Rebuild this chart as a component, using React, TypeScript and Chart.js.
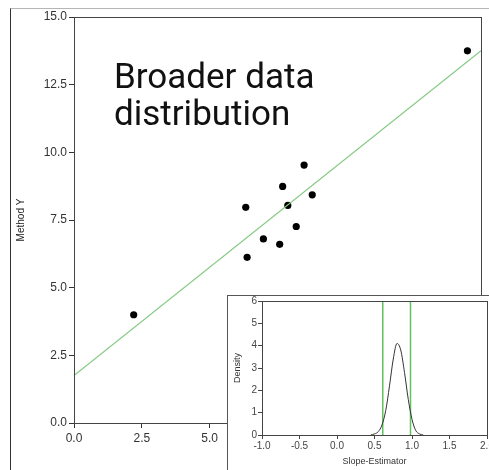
import React, { useEffect, useRef } from "react";
import { Chart, registerables } from "chart.js";

Chart.register(...registerables);

// Main scatter data
const methodX = [2.2, 6.33, 6.38, 6.98, 7.58, 7.69, 7.88, 8.19, 8.48, 8.78, 14.5];
const methodY = [4.0, 7.97, 6.12, 6.8, 6.6, 8.74, 8.04, 7.26, 9.53, 8.43, 13.75];
// Regression line endpoints
const fitX = [0, 15];
const fitY = [1.75, 13.75];
const mainTitleLines = ["Broader data", "distribution"];

// Inset density data
const slopeX = [0.45, 0.5, 0.55, 0.6, 0.65, 0.7, 0.75, 0.8, 0.85, 0.9, 0.95, 1.0, 1.05, 1.1, 1.15];
const densityY = [0.0, 0.05, 0.15, 0.45, 1.1, 2.2, 3.4, 4.1, 3.8, 2.8, 1.6, 0.7, 0.2, 0.05, 0.0];
const ciBounds = [0.61, 0.98];

const boxPlugin = {
  id: "boxPlugin",
  afterDraw(chart: any) {
    const { ctx, chartArea } = chart;
    ctx.save();
    ctx.strokeStyle = "#444";
    ctx.lineWidth = 1;
    ctx.strokeRect(
      Math.round(chartArea.left) + 0.5,
      Math.round(chartArea.top) + 0.5,
      Math.round(chartArea.right - chartArea.left),
      Math.round(chartArea.bottom - chartArea.top)
    );
    ctx.restore();
  },
};

const textPlugin = {
  id: "textPlugin",
  afterDraw(chart: any) {
    const ctx = chart.ctx;
    ctx.save();
    ctx.fillStyle = "#111";
    ctx.font = "35px Roboto";
    ctx.textBaseline = "alphabetic";
    ctx.textAlign = "left";
    ctx.fillText(mainTitleLines[0], 114, 88);
    ctx.fillText(mainTitleLines[1], 114, 125);
    ctx.restore();
  },
};

const tickFont = { family: "Arial, 'Liberation Sans', sans-serif", size: 12 };
const smallFont = { family: "Arial, 'Liberation Sans', sans-serif", size: 10 };
const titleFont = { family: "Arial, 'Liberation Sans', sans-serif", size: 9 };

export default function App() {
  const mainRef = useRef<HTMLCanvasElement>(null);
  const insetRef = useRef<HTMLCanvasElement>(null);

  useEffect(() => {
    const main = new Chart(mainRef.current!, {
      type: "scatter",
      data: {
        datasets: [
          {
            type: "line",
            data: fitX.map((x, i) => ({ x, y: fitY[i] })),
            borderColor: "#86c986",
            borderWidth: 1.2,
            pointRadius: 0,
            fill: false,
          } as any,
          {
            data: methodX.map((x, i) => ({ x, y: methodY[i] })),
            backgroundColor: "#000",
            borderColor: "#000",
            pointRadius: 3.6,
            pointBorderWidth: 0,
          },
        ],
      },
      options: {
        responsive: false,
        animation: false,
        layout: { padding: { left: 11, top: 17, right: 8, bottom: 0 } },
        plugins: { legend: { display: false }, tooltip: { enabled: false } },
        scales: {
          x: {
            type: "linear",
            min: 0,
            max: 15,
            ticks: {
              stepSize: 2.5,
              font: tickFont,
              color: "#333",
              padding: 3,
              callback: (v: any) => Number(v).toFixed(1),
            },
            grid: { drawOnChartArea: false, tickLength: 5, color: "#333" },
            border: { color: "#444" },
            afterFit: (s: any) => {
              s.height = 47;
              s.paddingLeft = 0;
              s.paddingRight = 0;
            },
          },
          y: {
            type: "linear",
            min: 0,
            max: 15,
            ticks: {
              stepSize: 2.5,
              font: tickFont,
              color: "#333",
              padding: 2,
              callback: (v: any) => Number(v).toFixed(1),
            },
            grid: { drawOnChartArea: false, tickLength: 5, color: "#333" },
            border: { color: "#444" },
            title: {
              display: true,
              text: "Method Y",
              font: { family: "Arial, 'Liberation Sans', sans-serif", size: 10 },
              color: "#222",
            },
            afterFit: (s: any) => {
              s.width = 63;
              s.paddingTop = 0;
              s.paddingBottom = 0;
            },
          },
        },
      } as any,
      plugins: [boxPlugin, textPlugin],
    });

    const inset = new Chart(insetRef.current!, {
      type: "line",
      data: {
        datasets: [
          {
            data: slopeX.map((x, i) => ({ x, y: densityY[i] })),
            borderColor: "#333",
            borderWidth: 1,
            pointRadius: 0,
            cubicInterpolationMode: "monotone",
            fill: false,
          },
          ...ciBounds.map((b) => ({
            data: [
              { x: b, y: 0 },
              { x: b, y: 6 },
            ],
            borderColor: "#5fc15f",
            borderWidth: 1.5,
            pointRadius: 0,
            fill: false,
          })),
        ],
      },
      options: {
        responsive: false,
        animation: false,
        layout: { padding: { left: 0, top: 5, right: 21, bottom: 0 } },
        plugins: { legend: { display: false }, tooltip: { enabled: false } },
        scales: {
          x: {
            type: "linear",
            min: -1,
            max: 2,
            ticks: {
              stepSize: 0.5,
              font: smallFont,
              color: "#444",
              padding: 1,
              callback: (v: any) => Number(v).toFixed(1),
            },
            grid: { drawOnChartArea: false, tickLength: 4, color: "#444" },
            border: { color: "#444" },
            title: {
              display: true,
              text: "Slope-Estimator",
              font: titleFont,
              color: "#333",
              padding: { top: 0, bottom: 3 },
            },
            afterFit: (s: any) => {
              s.height = 35;
              s.paddingLeft = 0;
              s.paddingRight = 0;
            },
          },
          y: {
            type: "linear",
            min: 0,
            max: 6,
            ticks: {
              stepSize: 1,
              font: smallFont,
              color: "#444",
              padding: 1,
            },
            grid: { drawOnChartArea: false, tickLength: 4, color: "#444" },
            border: { color: "#444" },
            title: {
              display: true,
              text: "Density",
              font: titleFont,
              color: "#333",
            },
            afterFit: (s: any) => {
              s.width = 34;
              s.paddingTop = 0;
              s.paddingBottom = 0;
            },
          },
        },
      } as any,
      plugins: [boxPlugin],
    });

    return () => {
      main.destroy();
      inset.destroy();
    };
  }, []);

  return (
    <div
      style={{
        position: "fixed",
        left: 0,
        top: 0,
        width: 489,
        height: 470,
        overflow: "hidden",
        background: "#fff",
      }}
    >
      <div
        style={{
          position: "absolute",
          left: 10,
          top: 8,
          width: 500,
          height: 500,
          borderTop: "1px solid #b5b5b5",
          borderLeft: "1px solid #333",
        }}
      />
      <canvas
        ref={mainRef}
        width={489}
        height={470}
        style={{ position: "absolute", left: 0, top: 0 }}
      />
      <div
        style={{
          position: "absolute",
          left: 227,
          top: 295,
          width: 300,
          height: 200,
          borderTop: "1px solid #555",
          borderLeft: "1px solid #555",
          background: "#fff",
        }}
      >
        <canvas
          ref={insetRef}
          width={280}
          height={174}
          style={{ position: "absolute", left: 0, top: 0 }}
        />
      </div>
    </div>
  );
}
